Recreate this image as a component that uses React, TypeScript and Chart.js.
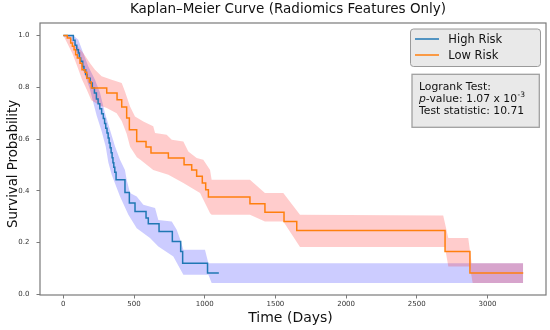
import React, { useEffect, useRef } from "react";
import { Chart, registerables } from "chart.js";
Chart.register(...registerables);

// ---- Data ----
const highRiskTimes = [0, 71, 83, 95, 106, 114, 123, 137, 146, 158, 168, 190, 205, 220, 234, 246, 258, 271, 283, 292, 300, 309, 317, 324, 331, 338, 345, 351, 357, 364, 373, 436, 467, 507, 585, 601, 677, 771, 830, 844, 1020, 1100];
const highRiskSurv = [1.0, 0.981, 0.962, 0.945, 0.932, 0.913, 0.9, 0.88, 0.868, 0.849, 0.835, 0.816, 0.797, 0.778, 0.755, 0.736, 0.717, 0.698, 0.679, 0.66, 0.642, 0.623, 0.604, 0.585, 0.566, 0.547, 0.528, 0.509, 0.491, 0.472, 0.443, 0.394, 0.353, 0.32, 0.295, 0.273, 0.243, 0.205, 0.166, 0.121, 0.083, 0.083];

const lowRiskTimes = [0, 28, 52, 64, 76, 87, 99, 118, 132, 153, 166, 184, 198, 307, 380, 413, 448, 467, 519, 585, 620, 743, 854, 908, 943, 983, 1007, 1026, 1320, 1426, 1561, 1651, 2700, 2876, 3253];
const lowRiskSurv = [1.0, 0.99, 0.971, 0.958, 0.945, 0.925, 0.913, 0.893, 0.868, 0.858, 0.835, 0.82, 0.797, 0.778, 0.752, 0.724, 0.681, 0.636, 0.591, 0.569, 0.546, 0.527, 0.501, 0.481, 0.456, 0.43, 0.404, 0.376, 0.35, 0.317, 0.282, 0.247, 0.166, 0.083, 0.083];

const highUpperTimes = [0, 71, 106, 141, 177, 224, 260, 295, 330, 366, 401, 436, 448, 472, 519, 566, 649, 672, 767, 802, 825, 849, 1002, 1026, 3253];
const highUpperSurv = [1.0, 1.0, 0.983, 0.932, 0.88, 0.829, 0.778, 0.7, 0.636, 0.571, 0.52, 0.481, 0.443, 0.392, 0.378, 0.346, 0.334, 0.288, 0.282, 0.25, 0.215, 0.173, 0.173, 0.121, 0.121];
const highLowerTimes = [0, 35, 71, 95, 130, 165, 189, 212, 236, 271, 300, 318, 342, 401, 460, 519, 613, 672, 778, 849, 1026, 1049, 3253];
const highLowerSurv = [1.0, 0.996, 0.971, 0.932, 0.88, 0.829, 0.79, 0.74, 0.69, 0.63, 0.57, 0.51, 0.462, 0.378, 0.308, 0.256, 0.218, 0.185, 0.147, 0.076, 0.076, 0.044, 0.044];

const lowUpperTimes = [0, 40, 71, 141, 189, 224, 271, 342, 413, 436, 472, 507, 566, 636, 649, 731, 767, 849, 884, 943, 990, 1038, 1049, 1320, 1426, 1556, 1674, 2687, 2723, 2864, 2888, 3253];
const lowUpperSurv = [1.0, 1.0, 0.977, 0.932, 0.893, 0.868, 0.842, 0.829, 0.816, 0.784, 0.726, 0.687, 0.668, 0.649, 0.623, 0.617, 0.597, 0.591, 0.552, 0.527, 0.52, 0.481, 0.443, 0.443, 0.392, 0.392, 0.308, 0.305, 0.218, 0.218, 0.121, 0.121];
const lowLowerTimes = [0, 28, 64, 99, 132, 166, 198, 260, 307, 377, 413, 448, 472, 520, 545, 636, 743, 849, 967, 1038, 1049, 1320, 1426, 1556, 1674, 2699, 2723, 2876, 2895, 3253];
const lowLowerSurv = [1.0, 0.97, 0.93, 0.88, 0.83, 0.79, 0.75, 0.73, 0.72, 0.7, 0.67, 0.62, 0.57, 0.53, 0.52, 0.481, 0.462, 0.43, 0.392, 0.314, 0.308, 0.308, 0.282, 0.282, 0.183, 0.183, 0.108, 0.108, 0.044, 0.044];

const xTickValues = [0, 500, 1000, 1500, 2000, 2500, 3000];
const yTickValues = [0, 0.2, 0.4, 0.6, 0.8, 1.0];
const yTickLabels = ["0.0", "0.2", "0.4", "0.6", "0.8", "1.0"];

const seriesNames = ["High Risk", "Low Risk"];
const titleText = "Kaplan\u2013Meier Curve (Radiomics Features Only)";
const xTitle = "Time (Days)";
const yTitle = "Survival Probability";
const logrankLines = ["Logrank Test:", "p", "-value: 1.07 x 10", "-3", "Test statistic: 10.71"];

const BLUE = "#1f77b4";
const ORANGE = "#ff7f0e";
const FONT = '"DejaVu Sans", sans-serif';

const pts = (t: number[], s: number[]) => t.map((x, i) => ({ x, y: s[i] }));

const overlay = {
  id: "overlay",
  afterDraw(chart: any) {
    const ctx = chart.ctx as CanvasRenderingContext2D;
    const a = chart.chartArea;
    ctx.save();
    // frame
    ctx.strokeStyle = "#7a7a7a";
    ctx.lineWidth = 1.2;
    ctx.strokeRect(a.left, a.top, a.right - a.left, a.bottom - a.top);

    // title
    ctx.fillStyle = "#111";
    ctx.textAlign = "center";
    ctx.textBaseline = "alphabetic";
    ctx.font = `13.5px ${FONT}`;
    ctx.fillText(titleText, 288, 13.3);

    // x title
    ctx.font = `14px ${FONT}`;
    ctx.fillText(xTitle, 290.5, 322.3);

    // y title
    ctx.save();
    ctx.translate(16.5, 164);
    ctx.rotate(-Math.PI / 2);
    ctx.font = `13.3px ${FONT}`;
    ctx.fillText(yTitle, 0, 0);
    ctx.restore();

    // legend box
    const lx = 410.5, ly = 29, lw = 130, lh = 37.5, r = 3;
    ctx.beginPath();
    ctx.moveTo(lx + r, ly);
    ctx.lineTo(lx + lw - r, ly);
    ctx.quadraticCurveTo(lx + lw, ly, lx + lw, ly + r);
    ctx.lineTo(lx + lw, ly + lh - r);
    ctx.quadraticCurveTo(lx + lw, ly + lh, lx + lw - r, ly + lh);
    ctx.lineTo(lx + r, ly + lh);
    ctx.quadraticCurveTo(lx, ly + lh, lx, ly + lh - r);
    ctx.lineTo(lx, ly + r);
    ctx.quadraticCurveTo(lx, ly, lx + r, ly);
    ctx.closePath();
    ctx.fillStyle = "#e9e9e9";
    ctx.fill();
    ctx.strokeStyle = "#9a9a9a";
    ctx.lineWidth = 1;
    ctx.stroke();

    ctx.lineWidth = 1.5;
    ctx.strokeStyle = BLUE;
    ctx.beginPath(); ctx.moveTo(415, 39); ctx.lineTo(439, 39); ctx.stroke();
    ctx.strokeStyle = ORANGE;
    ctx.beginPath(); ctx.moveTo(415, 55); ctx.lineTo(439, 55); ctx.stroke();
    ctx.fillStyle = "#111";
    ctx.textAlign = "left";
    ctx.font = `11.5px ${FONT}`;
    ctx.fillText(seriesNames[0], 448.3, 42.8);
    ctx.fillText(seriesNames[1], 448.3, 59);

    // logrank box
    ctx.fillStyle = "#e9e9e9";
    ctx.fillRect(412, 74.3, 127.3, 53);
    ctx.strokeStyle = "#a0a0a0";
    ctx.lineWidth = 1.3;
    ctx.strokeRect(412, 74.3, 127.3, 53);
    ctx.fillStyle = "#111";
    const fs = 10.8;
    ctx.font = `${fs}px ${FONT}`;
    ctx.fillText(logrankLines[0], 419, 90);
    ctx.font = `italic ${fs}px ${FONT}`;
    ctx.fillText(logrankLines[1], 419, 101.7);
    let px = 419 + ctx.measureText(logrankLines[1]).width;
    ctx.font = `${fs}px ${FONT}`;
    ctx.fillText(logrankLines[2], px, 101.7);
    px += ctx.measureText(logrankLines[2]).width;
    ctx.font = `7.5px ${FONT}`;
    ctx.fillText(logrankLines[3], px + 0.5, 97.2);
    ctx.font = `${fs}px ${FONT}`;
    ctx.fillText(logrankLines[4], 419, 113.7);
    ctx.restore();
  },
};

export default function App() {
  const ref = useRef<HTMLCanvasElement | null>(null);
  useEffect(() => {
    document.body.style.margin = "0";
    const canvas = ref.current;
    if (!canvas) return;
    const bandLine = (data: any, color: string, fill: any) => ({
      data,
      borderColor: "rgba(0,0,0,0)",
      borderWidth: 0,
      backgroundColor: color,
      pointRadius: 0,
      pointHoverRadius: 0,
      fill,
      tension: 0,
    });
    const chart = new Chart(canvas, {
      type: "line",
      data: {
        datasets: [
          {
            label: seriesNames[1],
            data: pts(lowRiskTimes, lowRiskSurv),
            borderColor: ORANGE,
            borderWidth: 1.5,
            pointRadius: 0,
            stepped: "before",
            fill: false,
            order: 1,
          } as any,
          {
            label: seriesNames[0],
            data: pts(highRiskTimes, highRiskSurv),
            borderColor: BLUE,
            borderWidth: 1.5,
            pointRadius: 0,
            stepped: "before",
            fill: false,
            order: 2,
          } as any,
          { ...bandLine(pts(lowUpperTimes, lowUpperSurv), "rgba(255,0,0,0.2)", "+1"), order: 4 } as any,
          { ...bandLine(pts(lowLowerTimes, lowLowerSurv), "rgba(0,0,0,0)", false), order: 3 } as any,
          { ...bandLine(pts(highUpperTimes, highUpperSurv), "rgba(0,0,255,0.2)", "+1"), order: 6 } as any,
          { ...bandLine(pts(highLowerTimes, highLowerSurv), "rgba(0,0,0,0)", false), order: 5 } as any,
        ],
      },
      options: {
        responsive: false,
        animation: false,
        devicePixelRatio: 1,
        events: [],
        layout: { padding: { top: 23, right: 4, left: 0, bottom: 0 } },
        plugins: { legend: { display: false }, tooltip: { enabled: false }, title: { display: false } },
        scales: {
          x: {
            type: "linear",
            min: -165,
            max: 3414,
            afterBuildTicks: (s: any) => {
              s.ticks = xTickValues.map((v) => ({ value: v }));
            },
            afterFit: (s: any) => {
              s.height = 35;
            },
            grid: { display: true, drawOnChartArea: false, drawTicks: true, tickLength: 3.5, color: "#7a7a7a" },
            border: { display: false },
            ticks: {
              callback: (v: any) => String(v),
              font: { family: "DejaVu Sans", size: 7 },
              color: "#333",
              padding: 1.5,
              maxRotation: 0,
              autoSkip: false,
            },
          },
          y: {
            type: "linear",
            min: -0.002,
            max: 1.048,
            afterBuildTicks: (s: any) => {
              s.ticks = yTickValues.map((v) => ({ value: v }));
            },
            afterFit: (s: any) => {
              s.width = 40;
            },
            grid: { display: true, drawOnChartArea: false, drawTicks: true, tickLength: 3.5, color: "#7a7a7a" },
            border: { display: false },
            ticks: {
              callback: (v: any) => {
                const i = yTickValues.findIndex((t) => Math.abs(t - Number(v)) < 1e-9);
                return i >= 0 ? yTickLabels[i] : "";
              },
              font: { family: "DejaVu Sans", size: 7 },
              color: "#333",
              padding: 7,
              autoSkip: false,
            },
          },
        },
      },
      plugins: [overlay],
    } as any);
    return () => chart.destroy();
  }, []);
  return <canvas ref={ref} width={550} height={330} style={{ display: "block", width: 550, height: 330 }} />;
}
